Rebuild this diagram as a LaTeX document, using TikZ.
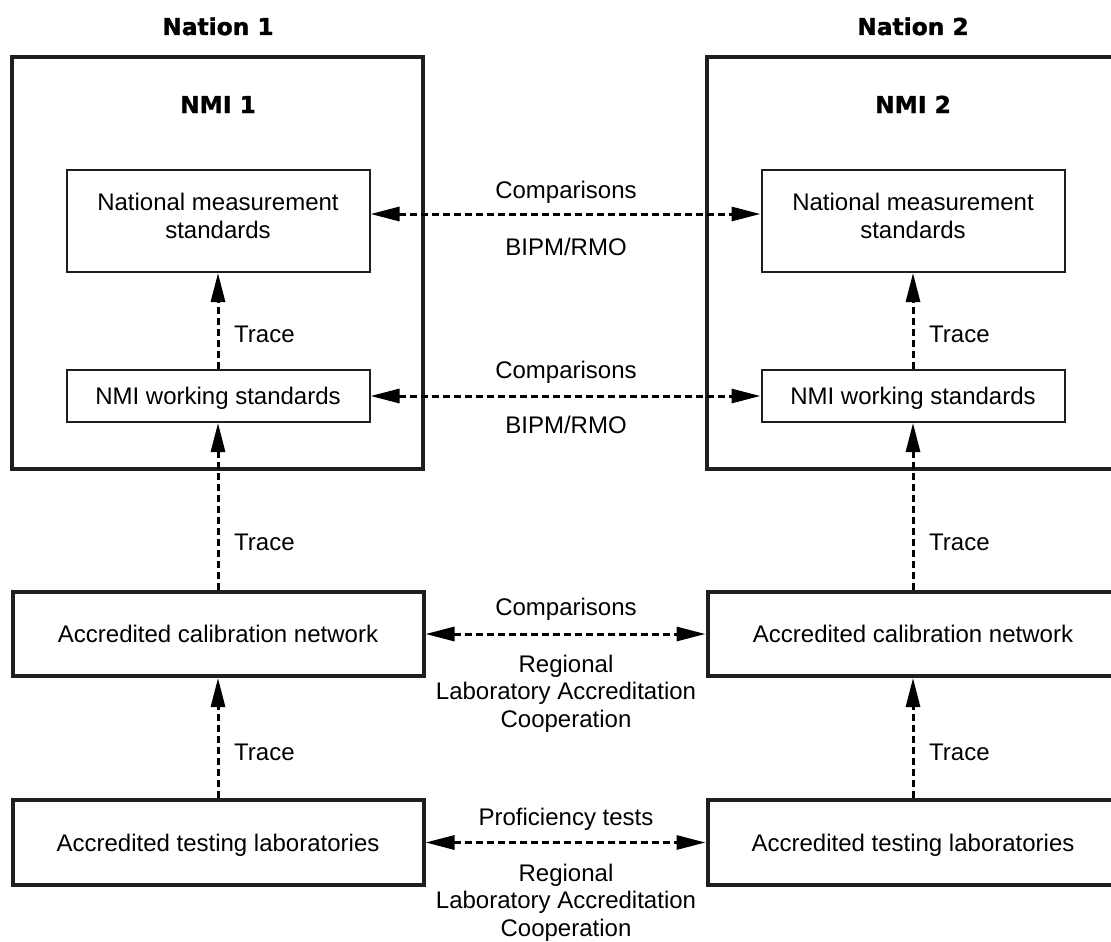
\documentclass[tikz,border=0pt]{standalone}
\usepackage{fontspec}
\setmainfont{Liberation Sans}
\newfontfamily\headfont{DejaVu Sans}[BoldFeatures={FakeBold=1.6}]
\usetikzlibrary{arrows.meta}
\begin{document}
\begin{tikzpicture}[x=1pt,y=-1pt,
  txt/.style={font=\fontsize{24}{27.5}\selectfont},
  head/.style={font=\headfont\bfseries\fontsize{23.3}{28}\selectfont, anchor=base, inner sep=0pt},
  outerbox/.style={draw=black!88, line width=4pt, minimum width=411pt, minimum height=412pt, inner sep=0pt},
  innerbox/.style={draw=black!88, line width=2pt, minimum width=303pt, inner sep=0pt, txt, align=center, text height=17pt, text depth=0pt},
  bigbox/.style={draw=black!88, line width=4pt, minimum width=411pt, inner sep=0pt, txt, text height=17pt, text depth=0pt},
  tracearrow/.style={dash pattern=on 7pt off 4pt, line width=3pt, line cap=butt, -{Triangle[length=29pt,width=14pt]}},
  cmparrow/.style={dash pattern=on 7pt off 4pt, line width=3pt, line cap=butt, {Triangle[length=29pt,width=14pt]}-{Triangle[length=29pt,width=14pt]}},
  lbl/.style={txt, anchor=base, align=center, inner sep=0pt},
  tlbl/.style={txt, anchor=base west, inner sep=0pt}
]
\useasboundingbox (0,0) rectangle (1111,942);

% headings
\node[head] (h1) at (218,35) {Nation 1};
\node[head] (h2) at (913,35) {Nation 2};

% NMI containers
\node[outerbox] (nmi1) at (217.5,263) {};
\node[outerbox] (nmi2) at (912.5,263) {};
\node[head] (nt1) at (218,113) {NMI 1};
\node[head] (nt2) at (913,113) {NMI 2};

% inner boxes
\node[innerbox, minimum height=102pt, text height=45pt, text depth=11pt] (nmsL) at (218,221) {National measurement\\standards};
\node[innerbox, minimum height=102pt, text height=45pt, text depth=11pt] (nmsR) at (913,221) {National measurement\\standards};
\node[innerbox, minimum height=52pt] (wsL) at (218,396) {NMI working standards};
\node[innerbox, minimum height=52pt] (wsR) at (913,396) {NMI working standards};

% lower boxes
\node[bigbox, minimum height=84pt] (calL) at (218,634) {Accredited calibration network};
\node[bigbox, minimum height=84pt] (calR) at (913,634) {Accredited calibration network};
\node[bigbox, minimum height=85pt] (testL) at (218,842.5) {Accredited testing laboratories};
\node[bigbox, minimum height=85pt] (testR) at (913,842.5) {Accredited testing laboratories};

% trace arrows
\draw[tracearrow] (wsL.north) -- (nmsL.south);
\draw[tracearrow] (calL.north) -- (wsL.south);
\draw[tracearrow] (testL.north) -- (calL.south);
\draw[tracearrow] (wsR.north) -- (nmsR.south);
\draw[tracearrow] (calR.north) -- (wsR.south);
\draw[tracearrow] (testR.north) -- (calR.south);

\node[tlbl] (t1) at (234,342) {Trace};
\node[tlbl] (t2) at (234,550) {Trace};
\node[tlbl] (t3) at (234,760) {Trace};
\node[tlbl] (t4) at (929,342) {Trace};
\node[tlbl] (t5) at (929,550) {Trace};
\node[tlbl] (t6) at (929,760) {Trace};

% comparison arrows
\draw[cmparrow] ([yshift=7pt]nmsL.east) -- ([yshift=7pt]nmsR.west);
\draw[cmparrow] (wsL.east) -- (wsR.west);
\draw[cmparrow] (calL.east) -- (calR.west);
\draw[cmparrow] (testL.east) -- (testR.west);

\node[lbl] (c1) at (566,198) {Comparisons};
\node[lbl] (b1) at (566,255) {BIPM/RMO};
\node[lbl] (c2) at (566,378) {Comparisons};
\node[lbl] (b2) at (566,433) {BIPM/RMO};
\node[lbl] (c3) at (566,615) {Comparisons};
\node[lbl] (r3) at (566,727) {Regional\\Laboratory Accreditation\\Cooperation};
\node[lbl] (p4) at (566,825) {Proficiency tests};
\node[lbl] (r4) at (566,936) {Regional\\Laboratory Accreditation\\Cooperation};
\end{tikzpicture}
\end{document}
